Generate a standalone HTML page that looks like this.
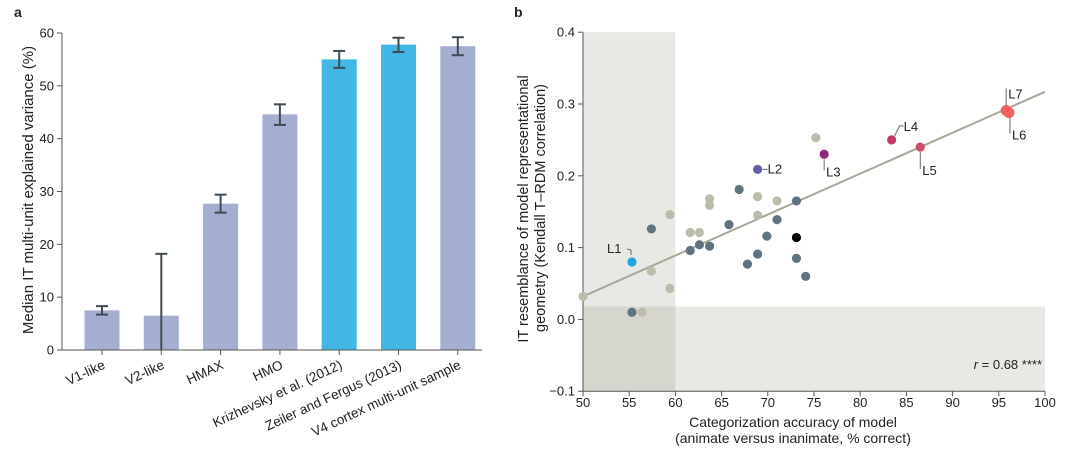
<!DOCTYPE html>
<html><head><meta charset="utf-8">
<style>
body{margin:0;background:#fff;width:1080px;height:449px;overflow:hidden;font-family:"Liberation Sans",sans-serif;}
svg text{font-family:"Liberation Sans",sans-serif;fill:#222;}
</style></head>
<body>
<svg id="fig" width="1080" height="449">
<g id="pa"></g>
<g id="pb"></g>
</svg>
<script>
// Panel a data
const barCats = ["V1-like","V2-like","HMAX","HMO","Krizhevsky et al. (2012)","Zeiler and Fergus (2013)","V4 cortex multi-unit sample"];
const barVals = [7.5,6.5,27.7,44.6,55.0,57.8,57.5];
const barLo = [6.7,0,26.0,42.6,53.4,56.4,55.8];
const barHi = [8.3,18.2,29.4,46.5,56.6,59.1,59.2];
const barHighlight = [false,false,false,false,true,true,false];
const barTicks = [0,10,20,30,40,50,60];

// Panel b data
const ptX = [55.3,68.9,76.1,83.4,86.5,95.8,96.1,
 75.2,50,56.4,57.4,59.4,59.4,61.6,62.6,63.7,63.7,68.9,68.9,71.0,
 55.3,57.4,61.6,62.6,63.7,65.8,66.9,67.8,68.9,69.9,71.0,73.1,73.1,74.1,
 73.1];
const ptY = [0.080,0.209,0.230,0.250,0.240,0.291,0.288,
 0.253,0.032,0.010,0.067,0.043,0.146,0.121,0.121,0.168,0.159,0.171,0.145,0.165,
 0.010,0.126,0.096,0.104,0.102,0.132,0.181,0.077,0.091,0.116,0.139,0.165,0.085,0.060,
 0.114];
const ptGroup = ["L1","L2","L3","L4","L5","L7","L6",
 "t","t","t","t","t","t","t","t","t","t","t","t","t",
 "s","s","s","s","s","s","s","s","s","s","s","s","s","s","k"];
const xTicks = [50,55,60,65,70,75,80,85,90,95,100];
const yTicks = [-0.1,0.0,0.1,0.2,0.3,0.4];
const fitX = [50,100];
const fitY = [0.032,0.317];

const NS="http://www.w3.org/2000/svg";
function mk(parent,tag,attrs,txt){const e=document.createElementNS(NS,tag);for(const k in attrs)e.setAttribute(k,attrs[k]);if(txt!==undefined)e.textContent=txt;parent.appendChild(e);return e;}

// ---- Panel a ----
const pa=document.getElementById('pa');
const ay=v=>350-v*(317/60);
const ax=i=>102+i*59.3;
let t=mk(pa,'text',{x:14,y:17,'font-size':14,'font-weight':'bold'},'a');


barCats.forEach((c,i)=>{
  const r=mk(pa,'rect',{x:ax(i)-17.5,y:ay(barVals[i]),width:35,height:ay(0)-ay(barVals[i]),fill:barHighlight[i]?'#42b6e5':'#a4aed0'});
  
  
  const g=mk(pa,'g',{stroke:'#3e4d55','stroke-width':2});
  
  
  mk(g,'line',{x1:ax(i),x2:ax(i),y1:ay(barLo[i]),y2:ay(barHi[i])});
  mk(g,'line',{x1:ax(i)-6,x2:ax(i)+6,y1:ay(barHi[i]),y2:ay(barHi[i])});
  if(barLo[i]>0) mk(g,'line',{x1:ax(i)-6,x2:ax(i)+6,y1:ay(barLo[i]),y2:ay(barLo[i])});
  mk(pa,'line',{x1:ax(i),x2:ax(i),y1:350,y2:355,stroke:'#555'});
  const l=mk(pa,'text',{x:ax(i)+4,y:368,'font-size':13.5,'text-anchor':'end',transform:`rotate(-25 ${ax(i)+4} 368)`},c);
  
  
});
mk(pa,'line',{x1:62,x2:482,y1:350,y2:350,stroke:'#555'});
mk(pa,'line',{x1:62,x2:62,y1:33,y2:350,stroke:'#555'});
barTicks.forEach(v=>{
  mk(pa,'line',{x1:57,x2:62,y1:ay(v),y2:ay(v),stroke:'#555'});
  const l=mk(pa,'text',{x:54,y:ay(v)+4.5,'font-size':13,'text-anchor':'end'},v);
  
  
});
t=mk(pa,'text',{x:0,y:0,'font-size':15,'text-anchor':'middle',transform:'translate(33,190) rotate(-90)'},'Median IT multi-unit explained variance (%)');



// ---- Panel b ----
const pb=document.getElementById('pb');
const bx=v=>583+(v-50)*(462/50);
const by=v=>319.4-v*718;
t=mk(pb,'text',{x:514,y:17,'font-size':14,'font-weight':'bold'},'b');


let r=mk(pb,'rect',{x:bx(50),y:by(0.4),width:bx(60)-bx(50),height:by(-0.1)-by(0.4),fill:'#e8e8e4'});


r=mk(pb,'rect',{x:bx(50),y:by(0.018),width:bx(100)-bx(50),height:by(-0.1)-by(0.018),fill:'#e8e8e4'});


mk(pb,'rect',{x:bx(50),y:by(0.018),width:bx(60)-bx(50),height:by(-0.1)-by(0.018),fill:'#d6d5ce'});
mk(pb,'line',{x1:583,x2:1045,y1:by(-0.1),y2:by(-0.1),stroke:'#555'});
mk(pb,'line',{x1:583,x2:583,y1:by(0.4),y2:by(-0.1),stroke:'#555'});
xTicks.forEach(v=>{
  mk(pb,'line',{x1:bx(v),x2:bx(v),y1:by(-0.1),y2:by(-0.1)+5,stroke:'#555'});
  const l=mk(pb,'text',{x:bx(v),y:407,'font-size':13,'text-anchor':'middle'},v);
  
  
});
yTicks.forEach(v=>{
  mk(pb,'line',{x1:578,x2:583,y1:by(v),y2:by(v),stroke:'#555'});
  const l=mk(pb,'text',{x:575,y:by(v)+4.5,'font-size':13,'text-anchor':'end'},(v<0?'\u2212'+Math.abs(v).toFixed(1):v.toFixed(1)));
  
  
});
const fl=mk(pb,'line',{x1:bx(fitX[0]),y1:by(fitY[0]),x2:bx(fitX[1]),y2:by(fitY[1]),stroke:'#a9a898','stroke-width':2});


const colors={t:'#bdbcab',s:'#5f7381',k:'#000',L1:'#1ea7e1',L2:'#5f60a9',L3:'#8d2a7a',L4:'#c3396c',L5:'#cf4a6b',L6:'#f1635e',L7:'#f1635e'};
ptX.forEach((x,i)=>{
  const g=ptGroup[i];
  const c=mk(pb,'circle',{cx:bx(x),cy:by(ptY[i]),r:g==='L6'||g==='L7'?5.5:4.6,fill:colors[g]});
  
  
});
function ann(i,path,tx,ty,label){
  const px=bx(ptX[i]),py=by(ptY[i]);
  mk(pb,'path',{d:path(px,py),stroke:'#666',fill:'none','stroke-width':1});
  const l=mk(pb,'text',{x:px+tx,y:py+ty,'font-size':13},label);
  
  
}
ann(0,(x,y)=>`M${x-1} ${y-7}L${x-1} ${y-12}L${x-5} ${y-13}`,-25,-9,'L1');
ann(1,(x,y)=>`M${x+5} ${y}L${x+10} ${y}`,10,4,'L2');
ann(2,(x,y)=>`M${x} ${y+5}L${x} ${y+16}`,2,22,'L3');
ann(3,(x,y)=>`M${x+3} ${y-4}L${x+8} ${y-14}L${x+12} ${y-14}`,12,-9,'L4');
ann(4,(x,y)=>`M${x} ${y+5}L${x} ${y+22}`,2,28,'L5');
ann(5,(x,y)=>`M${x} ${y-5}L${x} ${y-22}`,2,-12,'L7');
ann(6,(x,y)=>`M${x+1} ${y+5}L${x+1} ${y+21}`,3,27,'L6');
t=mk(pb,'text',{x:1042,y:369,'font-size':13,'text-anchor':'end'});
t.innerHTML='<tspan font-style="italic">r</tspan> = 0.68 ****';


t=mk(pb,'text',{x:793,y:427,'font-size':14,'text-anchor':'middle'},'Categorization accuracy of model');


t=mk(pb,'text',{x:793,y:443,'font-size':14,'text-anchor':'middle'},'(animate versus inanimate, % correct)');


t=mk(pb,'text',{x:0,y:0,'font-size':14.5,'text-anchor':'middle',transform:'translate(528,209) rotate(-90)'},'IT resemblance of model representational');


t=mk(pb,'text',{x:0,y:0,'font-size':14.5,'text-anchor':'middle',transform:'translate(545,208) rotate(-90)'},'geometry (Kendall T\u2013RDM correlation)');


</script>
</body></html>
